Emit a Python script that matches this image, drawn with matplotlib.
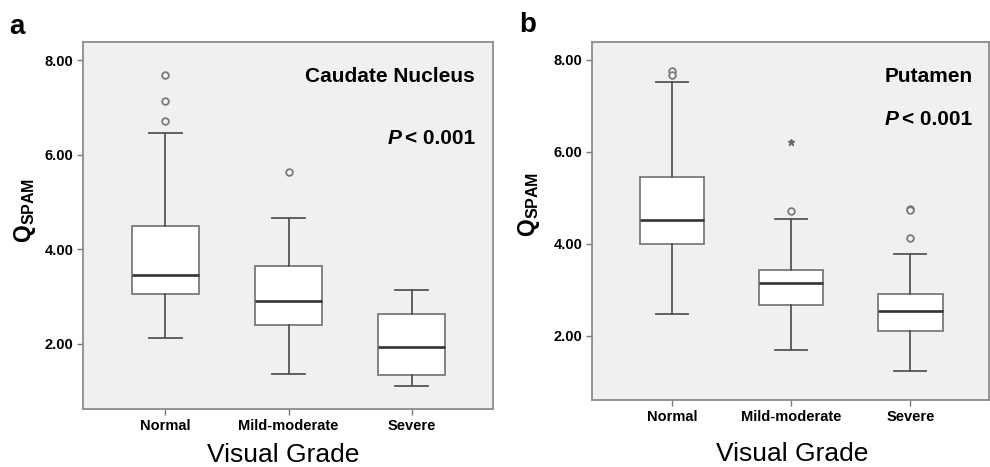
import matplotlib
matplotlib.use("Agg")
import matplotlib.pyplot as plt

plt.rcParams['font.family'] = ['Liberation Sans', 'DejaVu Sans']

categories = ["Normal", "Mild-moderate", "Severe"]
yticks = [2.0, 4.0, 6.0, 8.0]
ytick_labels = ["2.00", "4.00", "6.00", "8.00"]

# Panel a: Caudate Nucleus
caud_whislo = [2.11, 1.36, 1.09]
caud_q1 = [3.05, 2.40, 1.34]
caud_med = [3.46, 2.91, 1.92]
caud_q3 = [4.50, 3.65, 2.62]
caud_whishi = [6.47, 4.66, 3.14]
caud_outliers = [[7.70, 7.15, 6.71], [5.63], []]
caud_extremes = [[], [], []]

# Panel b: Putamen
put_whislo = [2.47, 1.70, 1.24]
put_q1 = [3.99, 2.67, 2.11]
put_med = [4.52, 3.16, 2.55]
put_q3 = [5.46, 3.43, 2.91]
put_whishi = [7.51, 4.54, 3.78]
put_outliers = [[7.75, 7.67], [4.72], [4.75, 4.73, 4.12]]
put_extremes = [[], [6.22], []]

fig = plt.figure(figsize=(9.9, 4.67), dpi=100)

BG = "#f0f0f0"
FRAME = "#8c8c8c"


def draw(rect, whislo, q1, med, q3, whishi, outl, extr, title, lab_xy, ylab_xy, xlab_xy, title_y, p_y, title_x):
    ax = fig.add_axes(rect)
    ax.set_facecolor(BG)
    stats = []
    for i in range(len(categories)):
        stats.append(dict(whislo=whislo[i], q1=q1[i], med=med[i], q3=q3[i],
                          whishi=whishi[i], fliers=outl[i], label=categories[i]))
    pos = list(range(len(categories)))
    ax.bxp(stats, positions=pos, widths=0.54, patch_artist=True,
           showfliers=True,
           boxprops=dict(facecolor="white", edgecolor="#7a7a7a", linewidth=1.3),
           medianprops=dict(color="#333333", linewidth=1.9),
           whiskerprops=dict(color="#555555", linewidth=1.3),
           capprops=dict(color="#555555", linewidth=1.3),
           capwidths=0.27,
           flierprops=dict(marker="o", markersize=4.8, markerfacecolor="#f4f4f4",
                           markeredgecolor="#7a7a7a", markeredgewidth=1.3))
    for i in range(len(categories)):
        if extr[i]:
            ax.plot([pos[i]] * len(extr[i]), extr[i], linestyle="none", marker="*",
                    markersize=5, color="#666666")
    ax.set_xlim(-0.67, 2.66)
    ax.set_ylim(0.61, 8.39)
    ax.set_yticks(yticks)
    ax.set_yticklabels(ytick_labels, fontsize=10.5, fontweight="bold")
    ax.set_xticks(pos)
    ax.set_xticklabels(categories, fontsize=10.5, fontweight="bold")
    ax.tick_params(axis="both", length=4, width=1, color="#777777", pad=3)
    for s in ax.spines.values():
        s.set_color(FRAME)
        s.set_linewidth(1.3)
    ax.set_ylabel(r"$\mathregular{Q_{SPAM}}$", fontsize=16.5, fontweight="bold")
    ax.yaxis.set_label_coords(*ylab_xy)
    ax.set_xlabel("Visual Grade", fontsize=19)
    ax.xaxis.set_label_coords(*xlab_xy)
    ax.text(title_x, title_y, title, transform=ax.transAxes, ha="right", va="center",
            fontsize=15, fontweight="bold")
    ax.text(title_x, p_y, "< 0.001", transform=ax.transAxes, ha="right", va="center",
            fontsize=15, fontweight="bold")
    fig.text(lab_xy[0], lab_xy[1], lab_xy[2], fontsize=20, fontweight="bold",
             ha="center", va="center")
    return ax


ax1 = draw([0.0838, 0.124, 0.414, 0.786], caud_whislo, caud_q1, caud_med, caud_q3,
           caud_whishi, caud_outliers, caud_extremes, "Caudate Nucleus",
           (0.017, 0.942, "a"), (-0.110, 0.540), (0.488, -0.092), 0.905, 0.738, 0.956)
ax2 = draw([0.598, 0.1435, 0.401, 0.767], put_whislo, put_q1, put_med, put_q3,
           put_whishi, put_outliers, put_extremes, "Putamen",
           (0.533, 0.946, "b"), (-0.125, 0.545), (0.504, -0.117), 0.902, 0.782, 0.958)

# italic P placed left of "< 0.001"
fig.canvas.draw()
for ax, py in ((ax1, 0.738), (ax2, 0.782)):
    t = [tx for tx in ax.texts if tx.get_text() == "< 0.001"][0]
    bb = t.get_window_extent()
    inv = ax.transAxes.inverted()
    x0 = inv.transform((bb.x0, bb.y0))[0]
    ax.text(x0 - 0.008, py, "P", transform=ax.transAxes, ha="right", va="center",
            fontsize=15, fontweight="bold", fontstyle="italic")

fig.savefig("out.png", dpi=100)
